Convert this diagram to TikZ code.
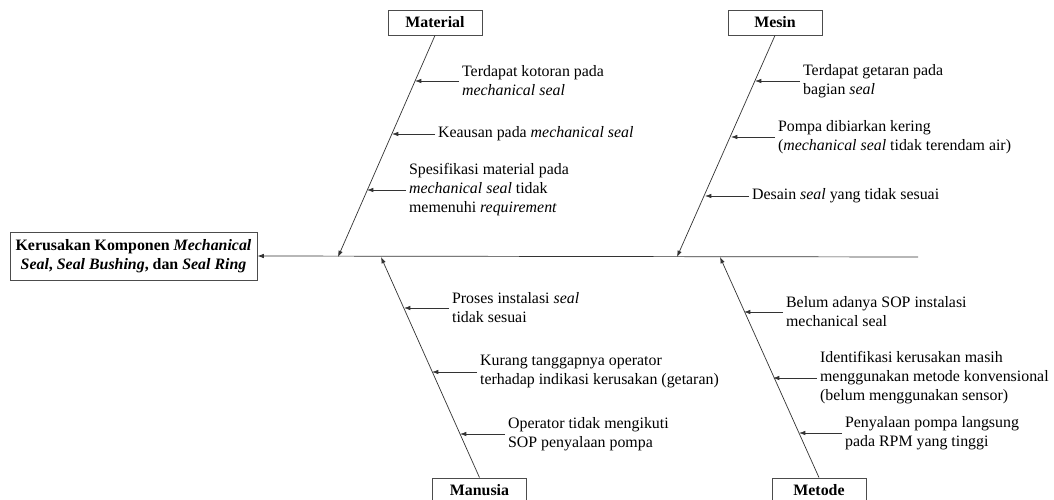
\documentclass[tikz,border=0pt]{standalone}
\usepackage{fontspec}
\setmainfont{Liberation Serif}
\usetikzlibrary{arrows.meta,positioning}

\begin{document}
\begin{tikzpicture}[x=0.025cm, y=-0.025cm,
    font=\fontsize{11.3}{13.5}\selectfont,
    bone/.style={draw=black!80, line width=0.5pt, -{Latex[length=4.5pt,width=3.2pt]}},
    catbox/.style={draw=black!70, line width=0.6pt, minimum width=2.35cm, minimum height=0.625cm, inner sep=0pt, font=\fontsize{11.3}{13.5}\selectfont\bfseries},
    causetxt/.style={align=left, anchor=west, inner xsep=2pt, inner ysep=0pt}]

\useasboundingbox (0,0) rectangle (1054,500);

% ---- head and spine ----
\node[draw=black!70, line width=0.6pt, minimum width=6.175cm, minimum height=1.2cm, align=center, inner sep=0pt,
      font=\fontsize{11.3}{13.5}\selectfont\bfseries] (head) at (133.5,256)
    {Kerusakan Komponen \textit{Mechanical}\\\textit{Seal}, \textit{Seal Bushing}, dan \textit{Seal Ring}};
\coordinate (spineEnd) at (918,257);
\draw[bone] (spineEnd) -- (head.east);

% ---- Material ----
\begin{scope}
    \node[catbox] (mat) at (435,22.5) {Material};
    \coordinate (matTip) at (338,257);
    \draw[bone] (mat.south) -- (matTip);
    \node[causetxt] (mat1) at (459,81) {Terdapat kotoran pada\\\textit{mechanical seal}};
    \node[causetxt] (mat2) at (435,134) {Keausan pada \textit{mechanical seal}};
    \node[causetxt] (mat3) at (406,190) {Spesifikasi material pada\\\textit{mechanical seal} tidak\\memenuhi \textit{requirement}};
    \coordinate (m1) at (415,81);
    \coordinate (m2) at (392,134);
    \coordinate (m3) at (367,190);
    \draw[bone] (mat1.west) -- (m1);
    \draw[bone] (mat2.west) -- (m2);
    \draw[bone] (mat3.west) -- (m3);
\end{scope}

% ---- Mesin ----
\begin{scope}
    \node[catbox] (msn) at (775,22.5) {Mesin};
    \coordinate (msnTip) at (677,257);
    \draw[bone] (msn.south) -- (msnTip);
    \node[causetxt] (msn1) at (800,81) {Terdapat getaran pada\\bagian \textit{seal}};
    \node[causetxt] (msn2) at (775,137) {Pompa dibiarkan kering\\(\textit{mechanical seal} tidak terendam air)};
    \node[causetxt] (msn3) at (749,196) {Desain \textit{seal} yang tidak sesuai};
    \coordinate (s1) at (755,81);
    \coordinate (s2) at (731,137);
    \coordinate (s3) at (705,196);
    \draw[bone] (msn1.west) -- (s1);
    \draw[bone] (msn2.west) -- (s2);
    \draw[bone] (msn3.west) -- (s3);
\end{scope}

% ---- Manusia ----
\begin{scope}
    \node[catbox] (man) at (479.5,490.5) {Manusia};
    \coordinate (manTip) at (381,257);
    \draw[bone] (man.north) -- (manTip);
    \node[causetxt] (man1) at (449,308) {Proses instalasi \textit{seal}\\tidak sesuai};
    \node[causetxt] (man2) at (477,372) {Kurang tanggapnya operator\\terhadap indikasi kerusakan (getaran)};
    \node[causetxt] (man3) at (505,434) {Operator tidak mengikuti\\SOP penyalaan pompa};
    \coordinate (h1) at (404,308);
    \coordinate (h2) at (432,372);
    \coordinate (h3) at (460,434);
    \draw[bone] (man1.west) -- (h1);
    \draw[bone] (man2.west) -- (h2);
    \draw[bone] (man3.west) -- (h3);
\end{scope}

% ---- Metode ----
\begin{scope}
    \node[catbox] (met) at (819,490.5) {Metode};
    \coordinate (metTip) at (720,257);
    \draw[bone] (met.north) -- (metTip);
    \node[causetxt] (met1) at (783,312) {Belum adanya SOP instalasi\\mechanical seal};
    \node[causetxt] (met2) at (817,378) {Identifikasi kerusakan masih\\menggunakan metode konvensional\\(belum menggunakan sensor)};
    \node[causetxt] (met3) at (842,433) {Penyalaan pompa langsung\\pada RPM yang tinggi};
    \coordinate (t1) at (744,312);
    \coordinate (t2) at (773,378);
    \coordinate (t3) at (799,433);
    \draw[bone] (met1.west) -- (t1);
    \draw[bone] (met2.west) -- (t2);
    \draw[bone] (met3.west) -- (t3);
\end{scope}

\end{tikzpicture}
\end{document}
